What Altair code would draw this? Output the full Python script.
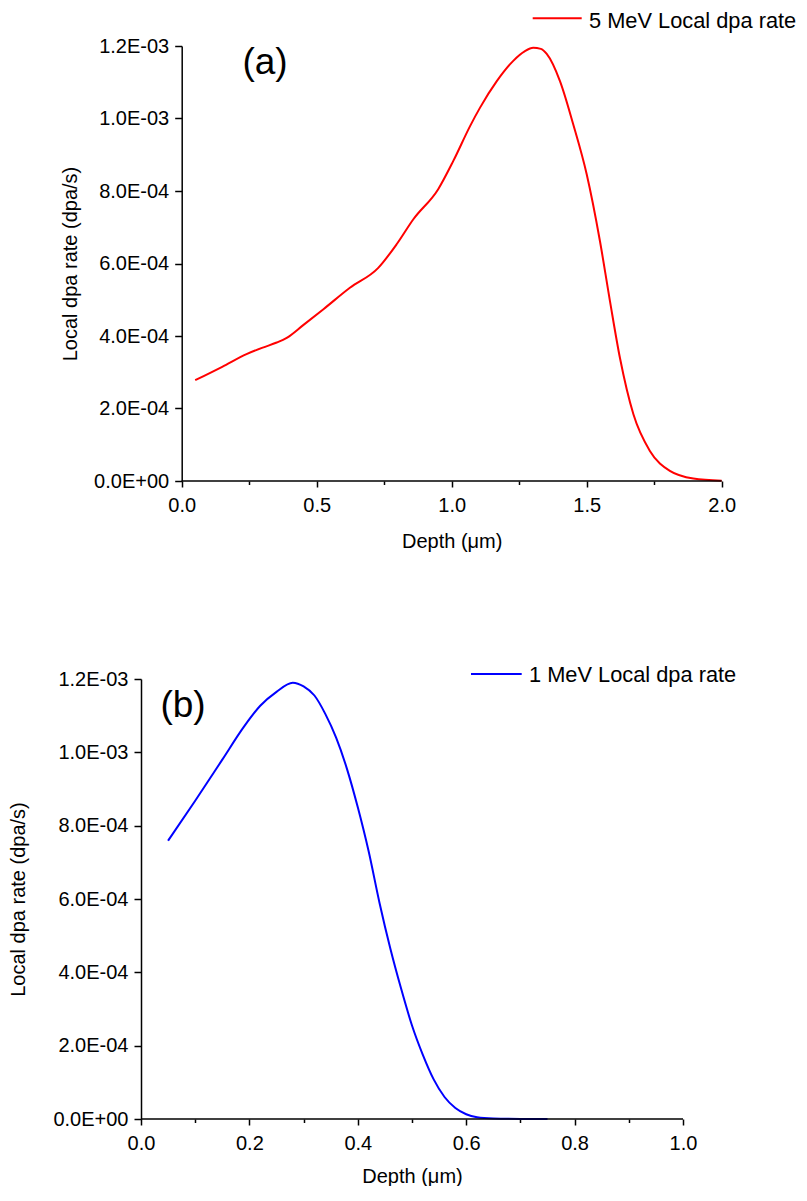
import altair as alt
import pandas as pd

FONT = "Liberation Sans"

# ---- data ----
depth_a = [0.05, 0.15, 0.24, 0.30, 0.352, 0.389, 0.45, 0.525, 0.623, 0.728, 0.796, 0.858,
           0.95, 1.006, 1.068, 1.105, 1.167, 1.228, 1.27, 1.302, 1.33, 1.352, 1.401, 1.45,
           1.50, 1.549, 1.586, 1.623, 1.673, 1.734, 1.808, 1.895, 2.0]
rate_a = [2.78e-4, 3.15e-4, 3.50e-4, 3.68e-4, 3.82e-4, 3.95e-4, 4.30e-4, 4.74e-4, 5.33e-4,
          5.88e-4, 6.53e-4, 7.22e-4, 8.05e-4, 8.83e-4, 9.79e-4, 1.030e-3, 1.103e-3, 1.159e-3,
          1.185e-3, 1.195e-3, 1.192e-3, 1.178e-3, 1.103e-3, 9.84e-4, 8.46e-4, 6.62e-4, 4.97e-4,
          3.40e-4, 1.84e-4, 8.3e-5, 2.8e-5, 7e-6, 1e-6]

depth_b = [0.05, 0.10, 0.15, 0.19, 0.22, 0.25, 0.28, 0.30, 0.32, 0.34, 0.36, 0.38, 0.40,
           0.42, 0.44, 0.46, 0.48, 0.50, 0.52, 0.54, 0.56, 0.58, 0.60, 0.62, 0.65, 0.70, 0.75]
rate_b = [7.59e-4, 8.68e-4, 9.80e-4, 1.070e-3, 1.127e-3, 1.165e-3, 1.190e-3, 1.180e-3,
          1.155e-3, 1.105e-3, 1.040e-3, 9.55e-4, 8.50e-4, 7.30e-4, 5.90e-4, 4.65e-4, 3.55e-4,
          2.55e-4, 1.75e-4, 1.08e-4, 6.0e-5, 3.0e-5, 1.3e-5, 5e-6, 1.5e-6, 3e-7, 0.0]

series_a = "5 MeV Local dpa rate"
series_b = "1 MeV Local dpa rate"
x_ticks_a = [0.0, 0.25, 0.5, 0.75, 1.0, 1.25, 1.5, 1.75, 2.0]
x_ticks_b = [0.0, 0.1, 0.2, 0.3, 0.4, 0.5, 0.6, 0.7, 0.8, 0.9, 1.0]
y_ticks = [0.0, 2e-4, 4e-4, 6e-4, 8e-4, 1.0e-3, 1.2e-3]

x_title = "Depth (μm)"
y_title = "Local dpa rate (dpa/s)"

EXP = "floor(log(datum.value)/LN10 + 1e-9)"
y_label_expr = (
    "datum.value == 0 ? '0.0E+00' : "
    f"format(datum.value / pow(10, {EXP}), '.1f') + 'E' + ({EXP} < 0 ? '-' : '+') + "
    f"format(abs({EXP}), '02d')"
)


def panel(depth, rate, series, color, xdomain, xticks, major_test, w, h,
          leg_x0, leg_x1, leg_y, leg_tx, leg_ty, tag, tag_x, tag_y, ytitle_pad,
          xtitle_pad, shift=0.0):
    # shift: extra room (px) on the left of the data rectangle, so that this panel's
    # y axis sits further right than the other panel's
    x0, x1 = xdomain
    span = x1 - x0
    xmin = x0 - span * shift / w
    df = pd.DataFrame({"depth": depth, "rate": rate, "series": series})
    line = alt.Chart(df).mark_line(interpolate="monotone", strokeWidth=2, color=color).encode(
        x=alt.X("depth:Q", title=x_title,
                scale=alt.Scale(domain=[xmin, x1], nice=False, zero=False),
                axis=alt.Axis(values=xticks, domain=False,
                              labelExpr=f"{major_test} ? format(datum.value, '.1f') : ''",
                              tickSize={"condition": {"test": major_test, "value": 6}, "value": 3.5},
                              labelPadding=8, titlePadding=xtitle_pad, labelFlush=False,
                              labelOverlap=False, titleX=shift + w / 2)),
        y=alt.Y("rate:Q", title=y_title,
                scale=alt.Scale(domain=[0, 0.0012], nice=False),
                axis=alt.Axis(values=y_ticks, labelExpr=y_label_expr, tickSize=7,
                              labelPadding=6, titlePadding=ytitle_pad, offset=-shift)),
    )
    axis_df = pd.DataFrame({"a": [x0], "b": [x1], "y": [0.0]})
    x_domain_line = alt.Chart(axis_df).mark_rule(color="black", strokeWidth=1.5).encode(
        x="a:Q", x2="b:Q", y="y:Q")
    key = pd.DataFrame({"label": [series]})
    key_line = alt.Chart(key).mark_rule(color=color, strokeWidth=2).encode(
        x=alt.value(shift + leg_x0), x2=alt.value(shift + leg_x1), y=alt.value(leg_y))
    key_text = alt.Chart(key).mark_text(fontSize=21.8, font=FONT, color="black",
                                        align="left", baseline="middle").encode(
        text="label:N", x=alt.value(shift + leg_tx), y=alt.value(leg_ty))
    tag_df = pd.DataFrame({"t": [tag]})
    tag_text = alt.Chart(tag_df).mark_text(fontSize=37, font=FONT, color="black",
                                           baseline="middle", align="center").encode(
        text="t:N", x=alt.value(shift + tag_x), y=alt.value(tag_y))
    return alt.layer(line, x_domain_line, key_line, key_text, tag_text).properties(
        width=w + shift, height=h)


pa = panel(depth_a, rate_a, series_a, "#ff0000", [0.0, 2.0], x_ticks_a,
           "round(datum.value*100) % 50 == 0", 540, 435,
           351, 400, -27.7, 407.3, -25.4, "(a)", 83.3, 17.4, 13, 16, shift=40.7)
pb = panel(depth_b, rate_b, series_b, "#0000ff", [0.0, 1.0], x_ticks_b,
           "round(datum.value*10) % 2 == 0", 542, 440,
           330, 380.7, -5, 388, -3.7, "(b)", 42, 26.5, 24.5, 13)

chart = alt.vconcat(pa, pb, spacing=114).properties(
    padding={"left": 0, "top": 2, "right": 0, "bottom": 0}
).configure_view(stroke=None).configure_axis(
    grid=False, domainColor="black", domainWidth=1.5, tickColor="black", tickWidth=1.5,
    labelFont=FONT, labelFontSize=20, labelColor="black",
    titleFont=FONT, titleFontSize=20, titleFontWeight="normal", titleColor="black"
)

chart.save("out.html", embed_options={"renderer": "svg", "actions": False})
